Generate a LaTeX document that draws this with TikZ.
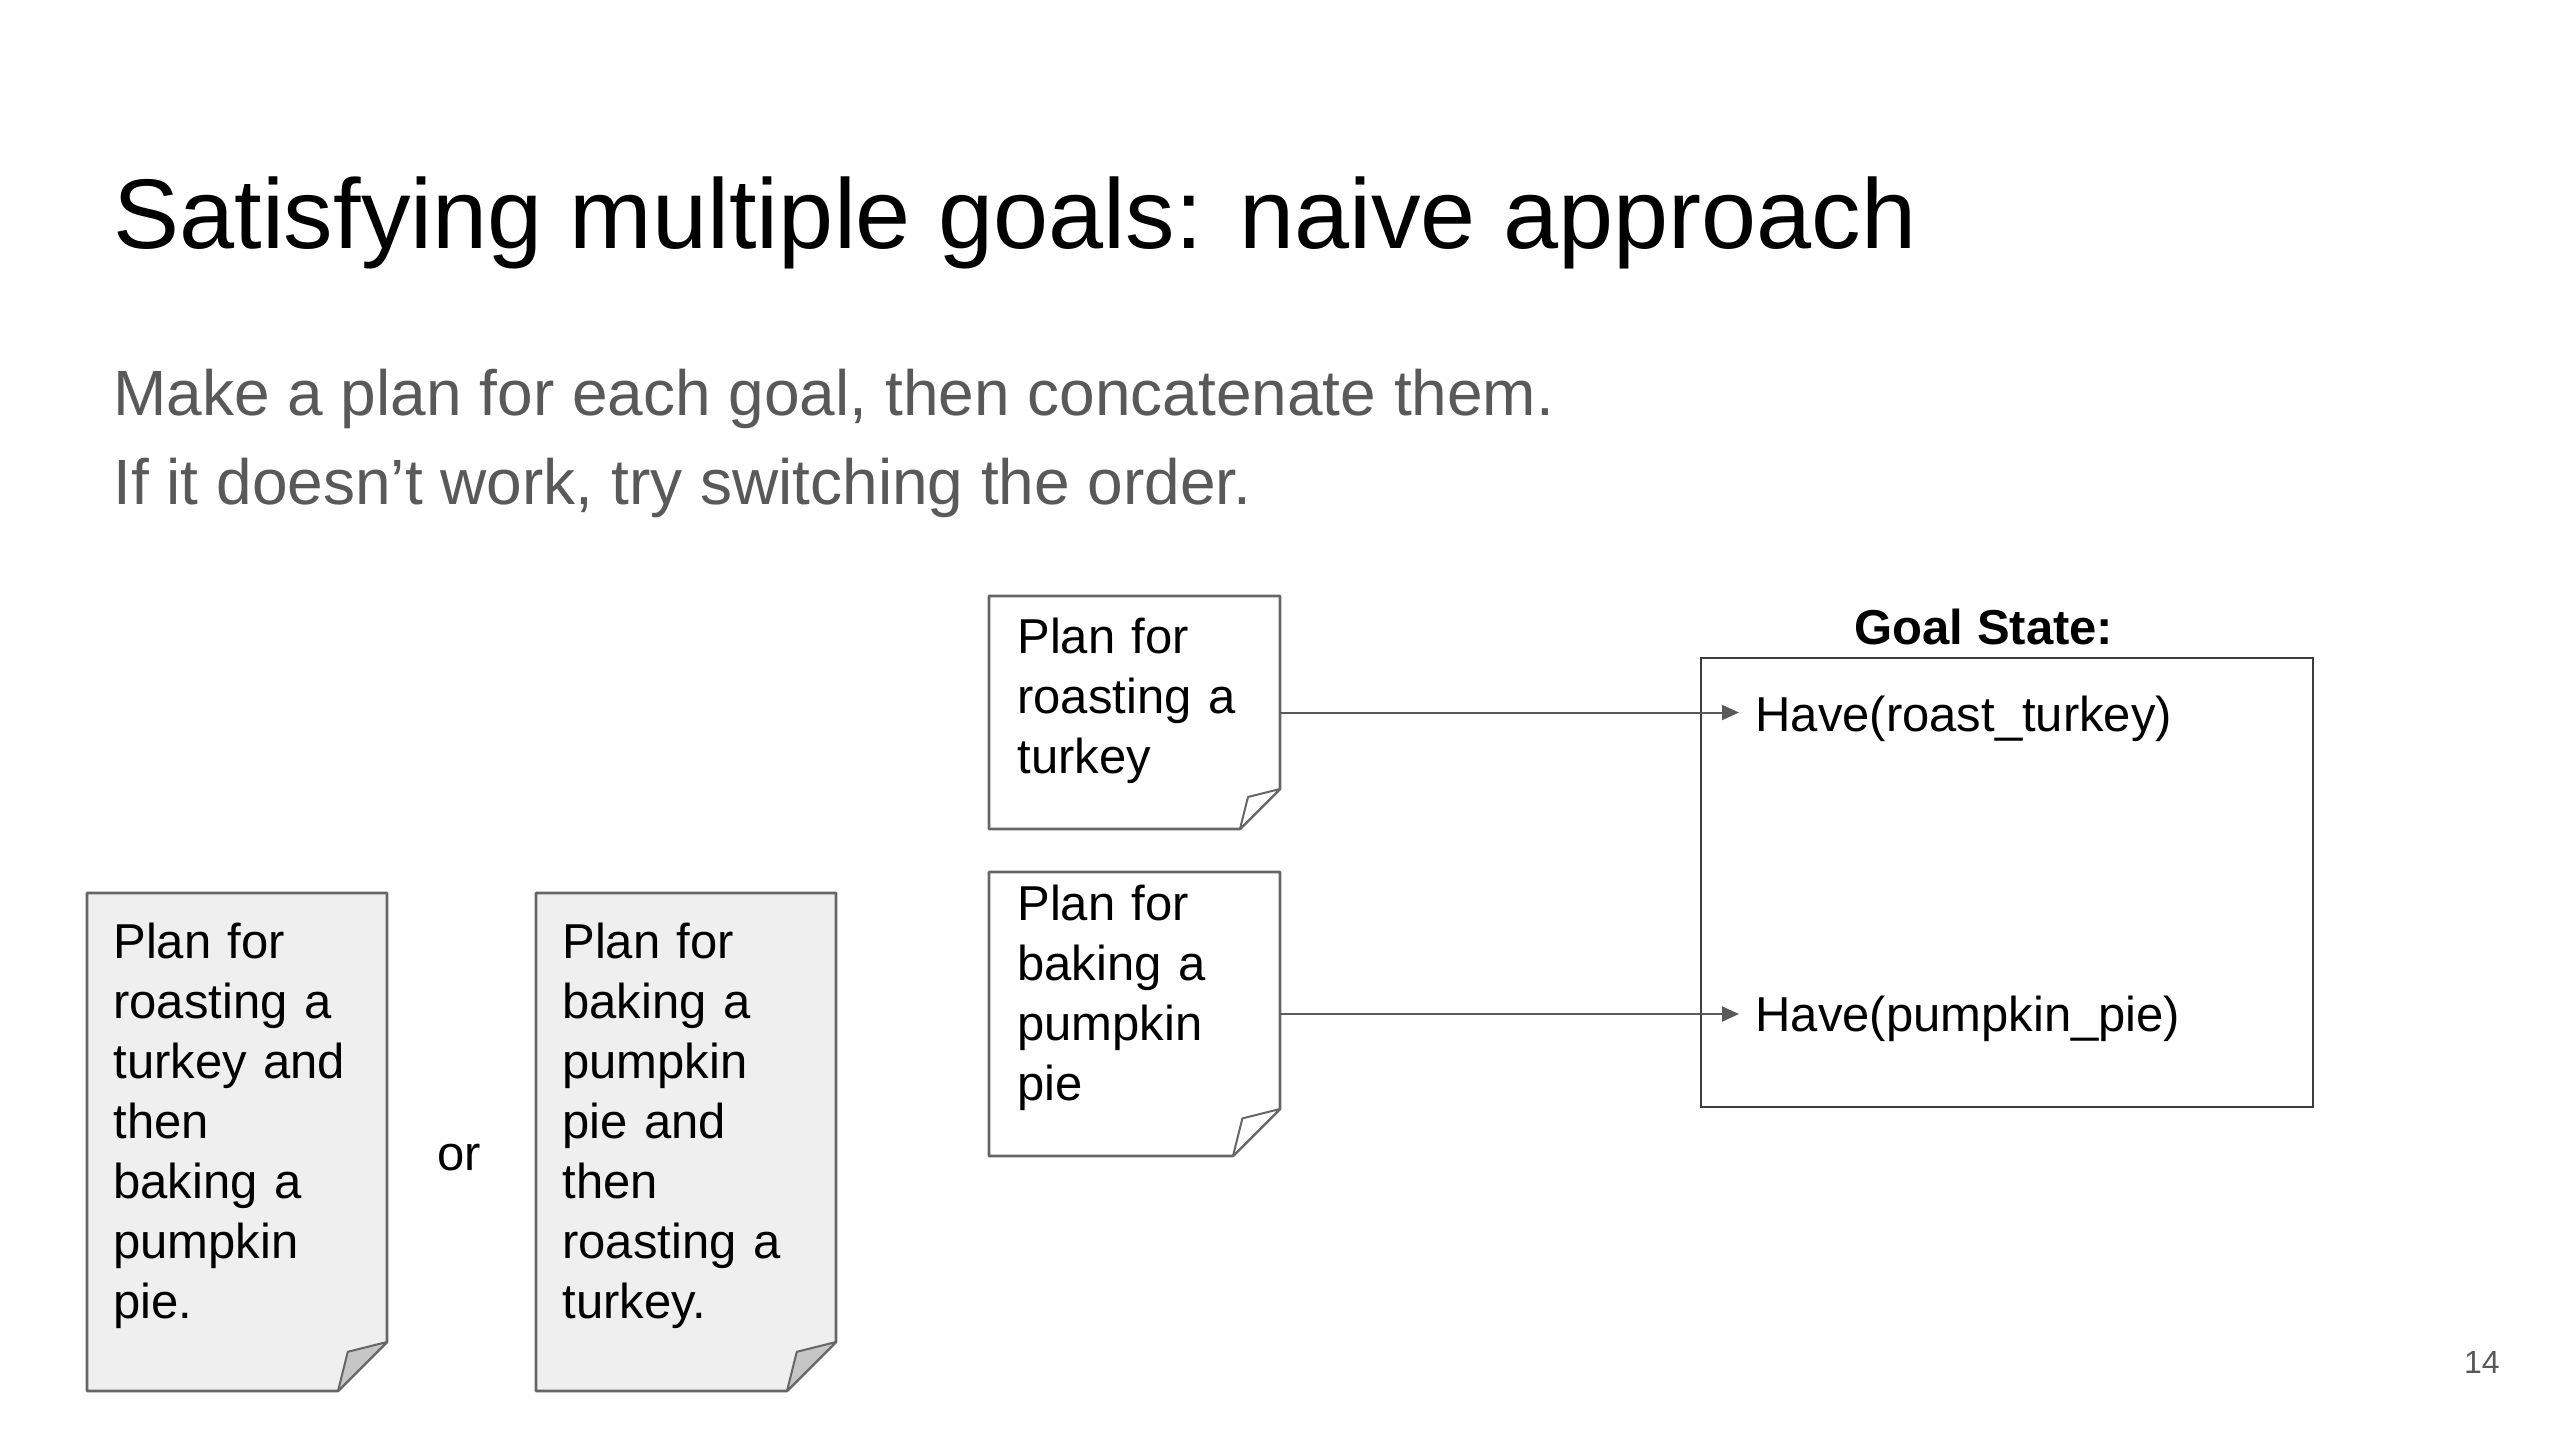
\documentclass[tikz,border=0pt]{standalone}
\usepackage{fontspec}
\setmainfont{Liberation Sans}
\usetikzlibrary{arrows.meta}
\definecolor{boxline}{HTML}{666666}
\definecolor{goalline}{HTML}{3C3C3C}
\definecolor{arrowgray}{HTML}{5A5A5A}
\definecolor{subgray}{HTML}{595959}
\definecolor{paperfill}{HTML}{EFEFEF}
\definecolor{foldfill}{HTML}{C6C6C6}
\tikzset{
  docline/.style={draw=boxline, line width=1.3pt, line join=round},
  docbox/.style={draw=none, inner sep=0pt, outer sep=0pt},
  doctext/.style={inner sep=0pt, anchor=base west, align=left, text width=140pt,
    font=\fontsize{24.5}{30}\selectfont},
  arr/.style={draw=arrowgray, line width=1pt, -{Triangle[length=8.5pt,width=7.5pt]}},
  havetext/.style={inner sep=0pt, anchor=base west, font=\fontsize{24.5}{30}\selectfont},
}
\newcommand\mydoc[4]{%
  \draw[docline, fill=#2] (#1.north west) -- (#1.north east) -- ([yshift=#4]#1.south east)
     -- ([xshift=-#4]#1.south east) -- (#1.south west) -- cycle;
  \draw[docline, fill=#3, line width=1pt] ([yshift=#4]#1.south east)
     -- ([xshift=-0.8*#4, yshift=0.8*#4]#1.south east) -- ([xshift=-#4]#1.south east) -- cycle;}
\begin{document}
\begin{tikzpicture}[x=0.5pt,y=-0.5pt]
\useasboundingbox[fill=white] (0,0) rectangle (2560,1440);

% title and subtitle
\node[inner sep=0pt, anchor=base west, font=\fontsize{49.5}{58}\selectfont] (title) at (113,248)
  {Satisfying multiple goals: naive approach};
\node[inner sep=0pt, anchor=base west, text=subgray, font=\fontsize{32}{44.5}\selectfont] (sub1) at (113,415)
  {Make a plan for each goal, then concatenate them.};
\node[inner sep=0pt, anchor=base west, text=subgray, font=\fontsize{32}{44.5}\selectfont] (sub2) at (113,504)
  {If it doesn’t work, try switching the order.};

% bottom-left combined plans
\node[docbox, minimum width=150pt, minimum height=249pt] (planA) at (237,1142) {};
\node[docbox, minimum width=150pt, minimum height=249pt] (planB) at (686,1142) {};
\mydoc{planA}{paperfill}{foldfill}{24.5pt}
\mydoc{planB}{paperfill}{foldfill}{24.5pt}
\node[doctext] (planAtext) at (113,958)
  {Plan for\\roasting a\\turkey and\\then\\baking a\\pumpkin\\pie.};
\node[doctext] (planBtext) at (562,958)
  {Plan for\\baking a\\pumpkin\\pie and\\then\\roasting a\\turkey.};
\node[inner sep=0pt, font=\fontsize{24.5}{30}\selectfont] (or) at (459,1158) {or};

% separate plans
\node[docbox, minimum width=145.5pt, minimum height=116.5pt] (planT) at (1134.5,712.5) {};
\node[docbox, minimum width=145.5pt, minimum height=142pt] (planP) at (1134.5,1014) {};
\mydoc{planT}{white}{white}{20pt}
\mydoc{planP}{white}{white}{23.5pt}
\node[doctext] (planTtext) at (1017,653) {Plan for\\roasting a\\turkey};
\node[doctext] (planPtext) at (1017,920) {Plan for\\baking a\\pumpkin\\pie};

% goal state
\node[draw=goalline, line width=1.3pt, minimum width=306pt, minimum height=224.5pt, inner sep=0pt] (goal) at (2007,882.5) {};
\node[inner sep=0pt, anchor=base, font=\bfseries\fontsize{24.5}{30}\selectfont] (goallabel) at (1984,644) {Goal State:};
\node[havetext] (have1) at (1755,731) {Have(roast\_turkey)};
\node[havetext] (have2) at (1755,1031) {Have(pumpkin\_pie)};
\coordinate (tip1) at (1739,712);
\coordinate (tip2) at (1739,1014);
\draw[arr] (planT.east) -- (planT.east -| tip1);
\draw[arr] (planP.east) -- (planP.east -| tip2);

% page number
\node[inner sep=0pt, anchor=base east, text=subgray, font=\fontsize{16}{20}\selectfont] (pagenum) at (2500,1373) {14};
\end{tikzpicture}
\end{document}
